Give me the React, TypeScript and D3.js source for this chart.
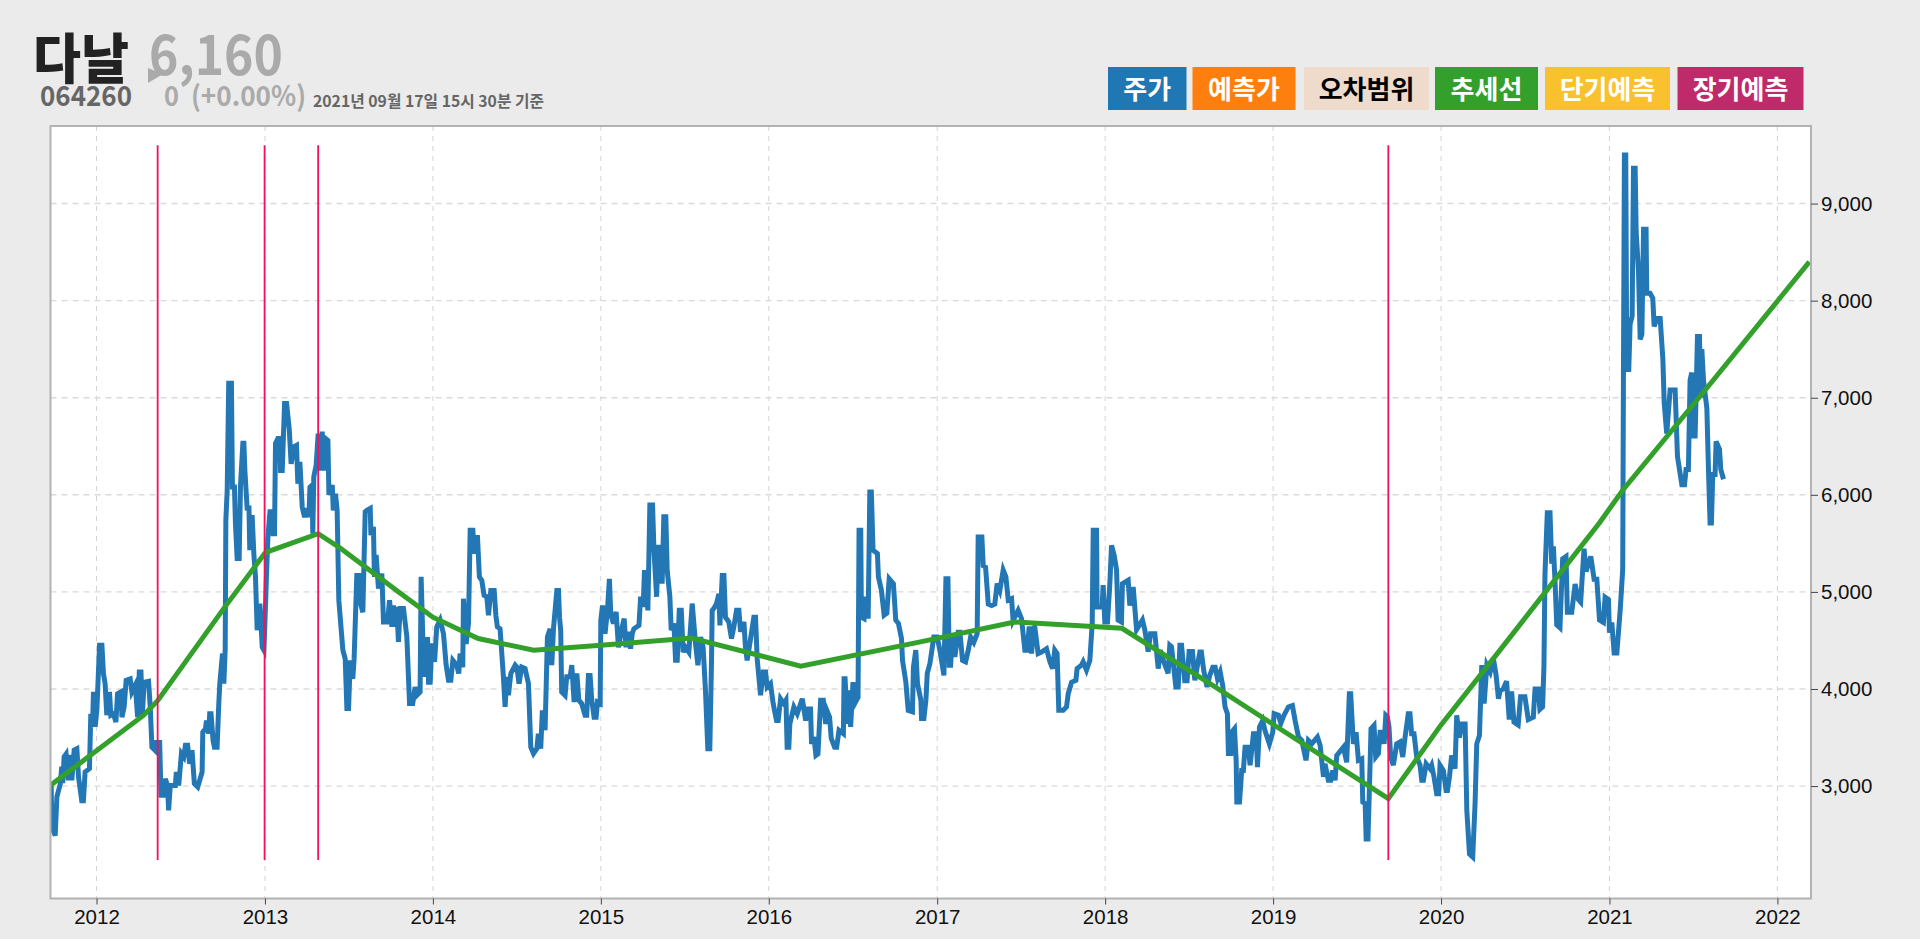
import * as d3 from "d3";
import { useEffect, useRef } from "react";

type Point = [number, number];

// decimal year, closing price
const price2011to2013: Point[] = [
    [2011.73, 3000], [2011.734, 2580], [2011.754, 2490], [2011.764, 2890], [2011.784, 3020], [2011.793, 3200], [2011.799, 3030], [2011.807, 3300],
    [2011.819, 3330], [2011.833, 3060], [2011.843, 3320], [2011.853, 3060], [2011.867, 3370], [2011.883, 3385], [2011.893, 3090], [2011.912, 2850],
    [2011.922, 2850], [2011.932, 3145], [2011.958, 3180], [2011.966, 3745], [2011.976, 3610], [2011.982, 3970], [2011.992, 3610], [2012.002, 3780],
    [2012.018, 4450], [2012.032, 4450], [2012.041, 4160], [2012.051, 4055], [2012.061, 3730], [2012.077, 3970], [2012.085, 3730], [2012.101, 3745],
    [2012.115, 3660], [2012.125, 3950], [2012.145, 3970], [2012.151, 3710], [2012.164, 3815], [2012.176, 4090], [2012.2, 4105], [2012.21, 3970],
    [2012.23, 4040], [2012.244, 3710], [2012.254, 4175], [2012.264, 4175], [2012.272, 3730], [2012.283, 4070], [2012.309, 4080], [2012.319, 3815],
    [2012.329, 3400], [2012.349, 3365], [2012.355, 3450], [2012.375, 3450], [2012.383, 2905], [2012.399, 2905], [2012.408, 3075], [2012.422, 3005],
    [2012.428, 2750], [2012.438, 3005], [2012.468, 3005], [2012.474, 3145], [2012.488, 3005], [2012.504, 3335], [2012.518, 3300], [2012.528, 3420],
    [2012.541, 3420], [2012.553, 3230], [2012.567, 3370], [2012.581, 3025], [2012.601, 2990], [2012.627, 3145], [2012.631, 3555], [2012.647, 3590],
    [2012.653, 3675], [2012.666, 3540], [2012.672, 3745], [2012.68, 3745], [2012.692, 3470], [2012.7, 3400], [2012.716, 3400], [2012.726, 3850],
    [2012.732, 4055], [2012.748, 4365], [2012.756, 4055], [2012.764, 4400], [2012.768, 5740], [2012.776, 6050], [2012.785, 7150], [2012.801, 7150],
    [2012.807, 6080], [2012.819, 6080], [2012.825, 5700], [2012.835, 5343], [2012.847, 5343], [2012.855, 6100], [2012.869, 6530], [2012.875, 6530],
    [2012.881, 6250], [2012.895, 5840], [2012.905, 5890], [2012.91, 5430], [2012.924, 5790], [2012.934, 5395], [2012.944, 5155], [2012.954, 4605],
    [2012.97, 4880], [2012.984, 4430], [2012.994, 4400],
];

const price2013to2014: Point[] = [
    [2013.004, 4880], [2013.01, 5220], [2013.018, 5570], [2013.03, 5825], [2013.043, 5825], [2013.049, 5600], [2013.057, 5600], [2013.063, 6530],
    [2013.077, 6580], [2013.089, 6580], [2013.093, 6250], [2013.103, 6250], [2013.117, 6940], [2013.129, 6940], [2013.145, 6670], [2013.156, 6320],
    [2013.172, 6495], [2013.188, 6510], [2013.196, 6115], [2013.208, 6340], [2013.222, 5875], [2013.236, 5770], [2013.248, 5860], [2013.262, 5770],
    [2013.268, 6080], [2013.281, 6100], [2013.285, 5600], [2013.291, 6185], [2013.305, 6305], [2013.317, 6630], [2013.331, 6250], [2013.341, 6650],
    [2013.351, 6250], [2013.361, 6580], [2013.375, 6560], [2013.381, 6000], [2013.401, 6100], [2013.407, 5840], [2013.42, 6010], [2013.43, 5840],
    [2013.44, 4915], [2013.464, 4400], [2013.478, 4310], [2013.488, 3800], [2013.498, 3800], [2013.508, 4295], [2013.523, 4105], [2013.531, 4310],
    [2013.547, 5170], [2013.561, 5170], [2013.567, 4900], [2013.583, 4790], [2013.597, 5825], [2013.607, 5840], [2013.627, 5860], [2013.631, 5585],
    [2013.646, 5670], [2013.652, 5155], [2013.662, 5380], [2013.676, 5035], [2013.696, 5190], [2013.706, 4690], [2013.73, 4690], [2013.742, 4915],
    [2013.756, 4640], [2013.765, 4860], [2013.775, 4640], [2013.785, 4845], [2013.795, 4485], [2013.805, 4830], [2013.825, 4830], [2013.845, 4535],
    [2013.861, 3850], [2013.88, 3850], [2013.894, 4020], [2013.904, 3935], [2013.924, 3970], [2013.93, 5155], [2013.94, 4535], [2013.954, 4125],
    [2013.968, 4535], [2013.974, 4070], [2013.984, 4070], [2013.994, 4470], [2014.01, 4280], [2014.023, 4640], [2014.043, 4710], [2014.063, 4570],
    [2014.079, 4245], [2014.093, 4090], [2014.107, 4090], [2014.119, 4295], [2014.142, 4245], [2014.154, 4160], [2014.162, 4365], [2014.178, 4225],
    [2014.182, 4930], [2014.198, 4465], [2014.212, 4675], [2014.222, 5635], [2014.238, 5635], [2014.246, 5395], [2014.265, 5585], [2014.277, 5155],
    [2014.291, 5120], [2014.305, 4965], [2014.321, 4950], [2014.331, 4760], [2014.345, 5015], [2014.365, 5015], [2014.375, 4760], [2014.384, 4640],
    [2014.4, 4620], [2014.42, 4125], [2014.43, 3815], [2014.44, 4125], [2014.45, 3935], [2014.464, 4160], [2014.49, 4245], [2014.5, 4225],
    [2014.513, 4055], [2014.529, 4225], [2014.549, 4210], [2014.569, 4055], [2014.583, 3400], [2014.599, 3335], [2014.619, 3385], [2014.628, 3540],
    [2014.642, 3385], [2014.652, 3780], [2014.668, 3575], [2014.682, 4535], [2014.698, 4620], [2014.708, 4245], [2014.718, 4620], [2014.738, 5015],
    [2014.748, 5015], [2014.754, 4740], [2014.761, 4605], [2014.767, 3970], [2014.787, 3935], [2014.797, 4125], [2014.817, 4125], [2014.827, 4245],
    [2014.841, 3865], [2014.857, 4160], [2014.869, 3885], [2014.886, 3850], [2014.906, 3730], [2014.916, 3730], [2014.926, 4140], [2014.936, 4140],
    [2014.946, 3885], [2014.96, 3710], [2014.972, 3710], [2014.98, 3865], [2014.996, 3850],
];

const price2015to2016: Point[] = [
    [2015.0, 4710], [2015.01, 4860], [2015.025, 4570], [2015.039, 4800], [2015.051, 5135], [2015.059, 4775], [2015.075, 4675], [2015.091, 4795],
    [2015.105, 4430], [2015.125, 4620], [2015.139, 4725], [2015.15, 4430], [2015.164, 4590], [2015.177, 4415], [2015.187, 4570], [2015.197, 4620],
    [2015.227, 4655], [2015.237, 4950], [2015.252, 4845], [2015.26, 5225], [2015.28, 4810], [2015.292, 5895], [2015.308, 5895], [2015.316, 5445],
    [2015.332, 4950], [2015.342, 5460], [2015.356, 5460], [2015.365, 5085], [2015.375, 5775], [2015.387, 5775], [2015.395, 5225], [2015.411, 4950],
    [2015.419, 4605], [2015.435, 4675], [2015.445, 4295], [2015.455, 4295], [2015.467, 4810], [2015.479, 4810], [2015.49, 4380], [2015.504, 4430],
    [2015.524, 4380], [2015.544, 4880], [2015.554, 4675], [2015.564, 4465], [2015.578, 4245], [2015.594, 4535], [2015.609, 4430], [2015.623, 3985],
    [2015.637, 3385], [2015.649, 3385], [2015.659, 4295], [2015.663, 4810], [2015.673, 4830], [2015.689, 4880], [2015.703, 4980], [2015.709, 4655],
    [2015.723, 5170], [2015.733, 5170], [2015.742, 4740], [2015.762, 4690], [2015.778, 4520], [2015.792, 4640], [2015.808, 4810], [2015.822, 4810],
    [2015.832, 4590], [2015.852, 4690], [2015.861, 4430], [2015.871, 4295], [2015.887, 4465], [2015.911, 4740], [2015.921, 4740], [2015.931, 4310],
    [2015.951, 3935], [2015.967, 4175], [2015.981, 4175], [2015.99, 4020], [2016.01, 4055], [2016.026, 3850], [2016.046, 3675], [2016.056, 3675],
    [2016.07, 3900], [2016.09, 3850], [2016.102, 3885], [2016.109, 3400], [2016.119, 3400], [2016.125, 3640], [2016.149, 3815], [2016.169, 3745],
    [2016.199, 3900], [2016.219, 3675], [2016.232, 3795], [2016.248, 3795], [2016.254, 3435], [2016.268, 3505], [2016.28, 3315], [2016.292, 3330],
    [2016.308, 3885], [2016.324, 3885], [2016.338, 3640], [2016.348, 3765], [2016.361, 3710], [2016.371, 3490], [2016.391, 3400], [2016.403, 3400],
    [2016.417, 3575], [2016.443, 3540], [2016.447, 4105], [2016.453, 4105], [2016.467, 3640], [2016.477, 3985], [2016.486, 3610], [2016.5, 4070],
    [2016.51, 3850], [2016.53, 3915], [2016.536, 5635], [2016.546, 5635], [2016.55, 4740], [2016.566, 4725], [2016.576, 4950], [2016.59, 4725],
    [2016.6, 6030], [2016.609, 6030], [2016.619, 5430], [2016.645, 5395], [2016.651, 5155], [2016.669, 5015], [2016.685, 4760], [2016.701, 4780],
    [2016.715, 5135], [2016.74, 5085], [2016.754, 4710], [2016.77, 4675], [2016.788, 4520], [2016.794, 4295], [2016.814, 4070], [2016.828, 3780],
    [2016.853, 3765], [2016.859, 4225], [2016.873, 4400], [2016.883, 4055], [2016.903, 3885],
];

const price2017to2018: Point[] = [
    [2016.907, 3695], [2016.921, 3695], [2016.933, 3885], [2016.941, 4160], [2016.957, 4265], [2016.98, 4535], [2017.0, 4535], [2017.016, 4400],
    [2017.04, 4140], [2017.052, 5135], [2017.064, 5135], [2017.072, 4245], [2017.08, 4245], [2017.091, 4570], [2017.105, 4330], [2017.125, 4585],
    [2017.135, 4585], [2017.151, 4295], [2017.169, 4280], [2017.185, 4400], [2017.199, 4535], [2017.218, 4480], [2017.238, 4570], [2017.244, 5565],
    [2017.266, 5565], [2017.274, 5270], [2017.288, 5255], [2017.304, 4875], [2017.324, 4860], [2017.343, 4875], [2017.357, 5085], [2017.373, 5015],
    [2017.393, 5225], [2017.409, 5155], [2017.423, 4915], [2017.443, 4930], [2017.452, 4705], [2017.482, 4810], [2017.502, 4725], [2017.522, 4400],
    [2017.536, 4400], [2017.548, 4645], [2017.562, 4365], [2017.572, 4625], [2017.581, 4640], [2017.601, 4365], [2017.621, 4380], [2017.651, 4415],
    [2017.671, 4280], [2017.687, 4210], [2017.7, 4400], [2017.714, 4365], [2017.724, 3780], [2017.75, 3780], [2017.77, 3815], [2017.78, 3950],
    [2017.8, 4070], [2017.826, 4090], [2017.833, 4210], [2017.859, 4245], [2017.869, 4280], [2017.889, 4195], [2017.909, 4295], [2017.923, 4675],
    [2017.929, 5635], [2017.949, 5635], [2017.952, 4845], [2017.982, 4845], [2017.988, 5070], [2017.998, 4690], [2018.014, 4690], [2018.028, 5085],
    [2018.038, 5480], [2018.054, 5375], [2018.068, 5225], [2018.077, 4710], [2018.097, 4690], [2018.103, 5085], [2018.137, 5120], [2018.147, 4860],
    [2018.167, 5050], [2018.187, 4610], [2018.222, 4710], [2018.236, 4610], [2018.256, 4385], [2018.27, 4570], [2018.296, 4570], [2018.316, 4210],
    [2018.329, 4400], [2018.345, 4300], [2018.375, 4160], [2018.385, 4450], [2018.395, 4435], [2018.421, 4020], [2018.435, 4020], [2018.445, 4450],
    [2018.455, 4450], [2018.474, 4085], [2018.488, 4085], [2018.5, 4385], [2018.52, 4385], [2018.534, 4090], [2018.564, 4380], [2018.573, 4380],
    [2018.587, 4190], [2018.607, 4020], [2018.623, 4140], [2018.641, 4225], [2018.655, 4225], [2018.669, 4105], [2018.685, 4175], [2018.7, 4035],
    [2018.714, 3815], [2018.728, 3745], [2018.734, 3335], [2018.748, 3335], [2018.754, 3555], [2018.77, 3590], [2018.78, 3265], [2018.784, 2835],
    [2018.8, 2835], [2018.813, 3160], [2018.823, 3160], [2018.833, 3400], [2018.853, 3400], [2018.863, 3215], [2018.883, 3540], [2018.899, 3540],
    [2018.907, 3195], [2018.919, 3610], [2018.938, 3675], [2018.952, 3570], [2018.978, 3435], [2018.998, 3555],
];

const price2019to2020: Point[] = [
    [2019.006, 3745], [2019.032, 3730], [2019.046, 3645], [2019.065, 3730], [2019.091, 3815], [2019.115, 3830], [2019.131, 3675], [2019.151, 3505],
    [2019.171, 3470], [2019.196, 3265], [2019.21, 3470], [2019.23, 3435], [2019.264, 3505], [2019.28, 3420], [2019.3, 3095], [2019.309, 3230],
    [2019.329, 3060], [2019.343, 3060], [2019.355, 3160], [2019.369, 3060], [2019.379, 3315], [2019.419, 3400], [2019.438, 3245], [2019.454, 3950],
    [2019.462, 3950], [2019.478, 3435], [2019.494, 3555], [2019.508, 3265], [2019.528, 3280], [2019.534, 2835], [2019.548, 2820], [2019.554, 2455],
    [2019.565, 2455], [2019.577, 3195], [2019.583, 3590], [2019.601, 3625], [2019.611, 3300], [2019.627, 3335], [2019.637, 3555], [2019.653, 3555],
    [2019.661, 3435], [2019.671, 3730], [2019.68, 3715], [2019.69, 3610], [2019.7, 3300], [2019.716, 3215], [2019.736, 3435], [2019.756, 3455],
    [2019.772, 3300], [2019.786, 3505], [2019.805, 3745], [2019.815, 3745], [2019.825, 3540], [2019.839, 3540], [2019.855, 3300], [2019.875, 3215],
    [2019.885, 3060], [2019.895, 3060], [2019.911, 3230], [2019.934, 3180], [2019.944, 3215], [2019.958, 3095], [2019.974, 2920], [2019.986, 2920],
    [2019.994, 3215], [2020.014, 3160], [2020.03, 2955], [2020.038, 2955], [2020.05, 3095], [2020.063, 3315], [2020.083, 3180], [2020.093, 3730],
    [2020.109, 3500], [2020.123, 3640], [2020.143, 3640], [2020.153, 2750], [2020.169, 2300], [2020.188, 2270], [2020.202, 2820], [2020.212, 3435],
    [2020.228, 3520], [2020.242, 4245], [2020.256, 3850], [2020.272, 4245], [2020.292, 4175], [2020.311, 4310], [2020.327, 4140], [2020.341, 3900],
    [2020.351, 3985], [2020.369, 4000], [2020.389, 4080], [2020.405, 3685], [2020.419, 3975], [2020.433, 3660], [2020.458, 3630], [2020.472, 3920],
    [2020.498, 3920], [2020.518, 3685], [2020.548, 3710], [2020.558, 4000], [2020.578, 4000], [2020.587, 3790], [2020.603, 3815], [2020.611, 4235],
    [2020.617, 5180], [2020.631, 5815], [2020.647, 5815], [2020.657, 5290], [2020.667, 5470], [2020.677, 5100], [2020.687, 4660], [2020.706, 4630],
    [2020.722, 5340], [2020.742, 5365], [2020.75, 4790], [2020.776, 4790], [2020.796, 5080], [2020.816, 4920], [2020.829, 4895], [2020.849, 5445],
    [2020.861, 5210], [2020.889, 5365], [2020.909, 5130], [2020.925, 5130], [2020.941, 4710], [2020.964, 4685], [2020.974, 4945], [2020.994, 4920],
];

const price2021: Point[] = [
    [2021.0, 4580], [2021.014, 4685], [2021.028, 4370], [2021.044, 4370], [2021.064, 4815], [2021.079, 5235], [2021.083, 7130], [2021.089, 9500],
    [2021.097, 9500], [2021.103, 7290], [2021.115, 7290], [2021.123, 7760], [2021.135, 7840], [2021.143, 9365], [2021.153, 9365], [2021.159, 8710],
    [2021.173, 8300], [2021.183, 7600], [2021.193, 7655], [2021.203, 8735], [2021.218, 8735], [2021.222, 8075], [2021.242, 8075], [2021.258, 8025],
    [2021.266, 7735], [2021.282, 7815], [2021.302, 7815], [2021.318, 7395], [2021.326, 6945], [2021.341, 6630], [2021.361, 7080], [2021.391, 7080],
    [2021.405, 6395], [2021.431, 6105], [2021.447, 6105], [2021.456, 6260], [2021.47, 6260], [2021.48, 7180], [2021.49, 7260], [2021.5, 6605],
    [2021.51, 6605], [2021.524, 7630], [2021.536, 7630], [2021.544, 7000], [2021.55, 7500], [2021.56, 7180], [2021.58, 6890], [2021.59, 6235],
    [2021.599, 5710], [2021.607, 5710], [2021.615, 6210], [2021.629, 6210], [2021.635, 6550], [2021.655, 6470], [2021.663, 6260], [2021.679, 6160],
];

const trendLine: Point[] = [
    [2011.72, 3000], [2012.28, 3730], [2012.363, 3880], [2012.756, 4830], [2012.998, 5395], [2013.01, 5410], [2013.317, 5600], [2013.45, 5450],
    [2013.796, 5000], [2014.0, 4740], [2014.27, 4520], [2014.6, 4400], [2015.0, 4450], [2015.54, 4525], [2016.19, 4235], [2016.9, 4485],
    [2017.46, 4690], [2018.1, 4625], [2018.62, 4060], [2019.686, 2870], [2020.0, 3630], [2020.35, 4400], [2020.94, 5710], [2021.08, 6050],
    [2021.58, 7100], [2022.19, 8400],
];

// 변곡점 (vertical markers)
const changePoints = [2012.363, 2012.998, 2013.317, 2019.686];
const changeRange = [2238, 9600];

const yearTicks = d3.range(2012, 2023);
const priceTicks = [3000, 4000, 5000, 6000, 7000, 8000, 9000];

const legendLabels = ["주가", "예측가", "오차범위", "추세선", "단기예측", "장기예측"];
const legendFill = ["#1f77b4", "#ff7f0e", "#eedbcc", "#33a02c", "#f8c12d", "#bf2a6b"];
const legendText = ["#fff", "#fff", "#000", "#fff", "#fff", "#fff"];
const legendLeft = [1108, 1192.5, 1304, 1435, 1545, 1677.5];
const legendRight = [1186.5, 1295.5, 1429, 1538, 1670, 1803.5];

const WIDTH = 1920;
const HEIGHT = 939;
const KR = "'Noto Sans CJK KR', sans-serif";

function toDate(year: number) {
    const y = Math.floor(year);
    const start = Date.UTC(y, 0, 1);
    return new Date(start + (year - y) * (Date.UTC(y + 1, 0, 1) - start));
}

function drawChart(svgElement: SVGSVGElement) {
    const svg = d3.select(svgElement);
    svg.selectAll("*").remove();

    const margin = { top: 126, right: 109, bottom: 40.5, left: 50.5 };
    const right = WIDTH - margin.right;
    const bottom = HEIGHT - margin.bottom;

    svg.append("rect").attr("width", WIDTH).attr("height", HEIGHT).attr("fill", "#ebebeb");

    const x = d3
        .scaleUtc()
        .domain([toDate(2011.726), toDate(2022.2)])
        .range([margin.left, right]);
    const y = d3.scaleLinear().domain([1842, 9799]).range([bottom, margin.top]);

    svg.append("rect")
        .attr("x", margin.left)
        .attr("y", margin.top)
        .attr("width", right - margin.left)
        .attr("height", bottom - margin.top)
        .attr("fill", "#fff");

    const defs = svg.append("defs");
    defs.append("clipPath")
        .attr("id", "plot")
        .append("rect")
        .attr("x", margin.left)
        .attr("y", margin.top)
        .attr("width", right - margin.left)
        .attr("height", bottom - margin.top);

    // Grid lines
    svg.append("g")
        .selectAll("line")
        .data(yearTicks)
        .join("line")
        .attr("x1", (d) => x(toDate(d)))
        .attr("x2", (d) => x(toDate(d)))
        .attr("y1", margin.top)
        .attr("y2", bottom)
        .attr("stroke", "#d4d4d4")
        .attr("stroke-width", 1)
        .attr("stroke-dasharray", "5,5");

    svg.append("g")
        .selectAll("line")
        .data(priceTicks)
        .join("line")
        .attr("x1", margin.left)
        .attr("x2", right)
        .attr("y1", (d) => y(d))
        .attr("y2", (d) => y(d))
        .attr("stroke", "#dadada")
        .attr("stroke-width", 1.4)
        .attr("stroke-dasharray", "6,5");

    const line = d3
        .line<Point>()
        .x((d) => x(toDate(d[0])))
        .y((d) => y(d[1]));

    const prices = [
        ...price2011to2013,
        ...price2013to2014,
        ...price2015to2016,
        ...price2017to2018,
        ...price2019to2020,
        ...price2021,
    ];

    const plot = svg.append("g").attr("clip-path", "url(#plot)");

    plot.append("path")
        .attr("d", line(prices))
        .attr("fill", "none")
        .attr("stroke", "#2277b4")
        .attr("stroke-width", 5);

    plot.append("path")
        .attr("d", line(trendLine))
        .attr("fill", "none")
        .attr("stroke", "#33a02c")
        .attr("stroke-width", 5);

    plot.append("g")
        .selectAll("line")
        .data(changePoints)
        .join("line")
        .attr("x1", (d) => x(toDate(d)))
        .attr("x2", (d) => x(toDate(d)))
        .attr("y1", y(changeRange[0]))
        .attr("y2", y(changeRange[1]))
        .attr("stroke", "#f50f5c")
        .attr("stroke-width", 1.8);

    // Frame
    svg.append("rect")
        .attr("x", margin.left)
        .attr("y", margin.top)
        .attr("width", right - margin.left)
        .attr("height", bottom - margin.top)
        .attr("fill", "none")
        .attr("stroke", "#b2b2b2")
        .attr("stroke-width", 2);

    // Axes
    const xAxis = svg
        .append("g")
        .attr("transform", `translate(0,${bottom})`)
        .call(
            d3
                .axisBottom(x)
                .tickValues(yearTicks.map(toDate))
                .tickSize(6)
                .tickPadding(5)
                .tickFormat((d) => d3.utcFormat("%Y")(d as Date))
        );
    const yAxis = svg
        .append("g")
        .attr("transform", `translate(${right},0)`)
        .call(
            d3
                .axisRight(y)
                .tickValues(priceTicks)
                .tickSize(7)
                .tickPadding(3)
                .tickFormat((d) => d3.format(",")(d as number))
        );
    [xAxis, yAxis].forEach((axis) => {
        axis.select(".domain").remove();
        axis.selectAll("line").attr("stroke", "#444");
        axis.selectAll("text")
            .style("font-family", "'Liberation Sans', Arial, sans-serif")
            .style("font-size", "20.5px")
            .style("fill", "#111");
    });

    // Legend
    const legend = svg
        .append("g")
        .selectAll("g")
        .data(legendLabels)
        .join("g");
    legend
        .append("rect")
        .attr("x", (_, i) => legendLeft[i])
        .attr("y", 67)
        .attr("width", (_, i) => legendRight[i] - legendLeft[i])
        .attr("height", 43)
        .attr("fill", (_, i) => legendFill[i]);
    legend
        .append("text")
        .attr("x", (_, i) => (legendLeft[i] + legendRight[i]) / 2)
        .attr("y", 98.5)
        .attr("text-anchor", "middle")
        .style("font-family", KR)
        .style("font-weight", 700)
        .style("font-size", "26px")
        .style("fill", (_, i) => legendText[i])
        .text((d) => d);

    // Header
    const header = svg.append("g").style("font-family", KR).style("font-weight", 700);
    const addText = (label: string, px: number, py: number, size: number, color: string, length: number) =>
        header
            .append("text")
            .attr("x", px)
            .attr("y", py)
            .attr("textLength", length)
            .attr("lengthAdjust", "spacingAndGlyphs")
            .style("font-size", `${size}px`)
            .style("fill", color)
            .text(label);

    addText("다날", 33, 79, 54, "#222", 96).style("font-weight", 900);
    addText("6,160", 149, 75, 55, "#aaa", 134);
    addText("064260", 40, 106, 28, "#666", 92);
    addText("0", 164, 106, 28, "#aaa", 15);
    addText("(+0.00%)", 191, 106, 28, "#aaa", 115);
    addText("2021년 09월 17일 15시 30분 기준", 313, 107, 16, "#666", 231);

    const triangle = d3.path();
    triangle.moveTo(148, 68);
    triangle.lineTo(163, 74);
    triangle.lineTo(148, 83);
    triangle.closePath();
    header.append("path").attr("d", triangle.toString()).attr("fill", "#aaa");
}

export default function App() {
    const chartRef = useRef<SVGSVGElement | null>(null);

    useEffect(() => {
        if (chartRef.current) drawChart(chartRef.current);
    }, []);

    return (
        <svg
            ref={chartRef}
            width={WIDTH}
            height={HEIGHT}
            style={{ position: "absolute", left: 0, top: 0, display: "block" }}
        ></svg>
    );
}
